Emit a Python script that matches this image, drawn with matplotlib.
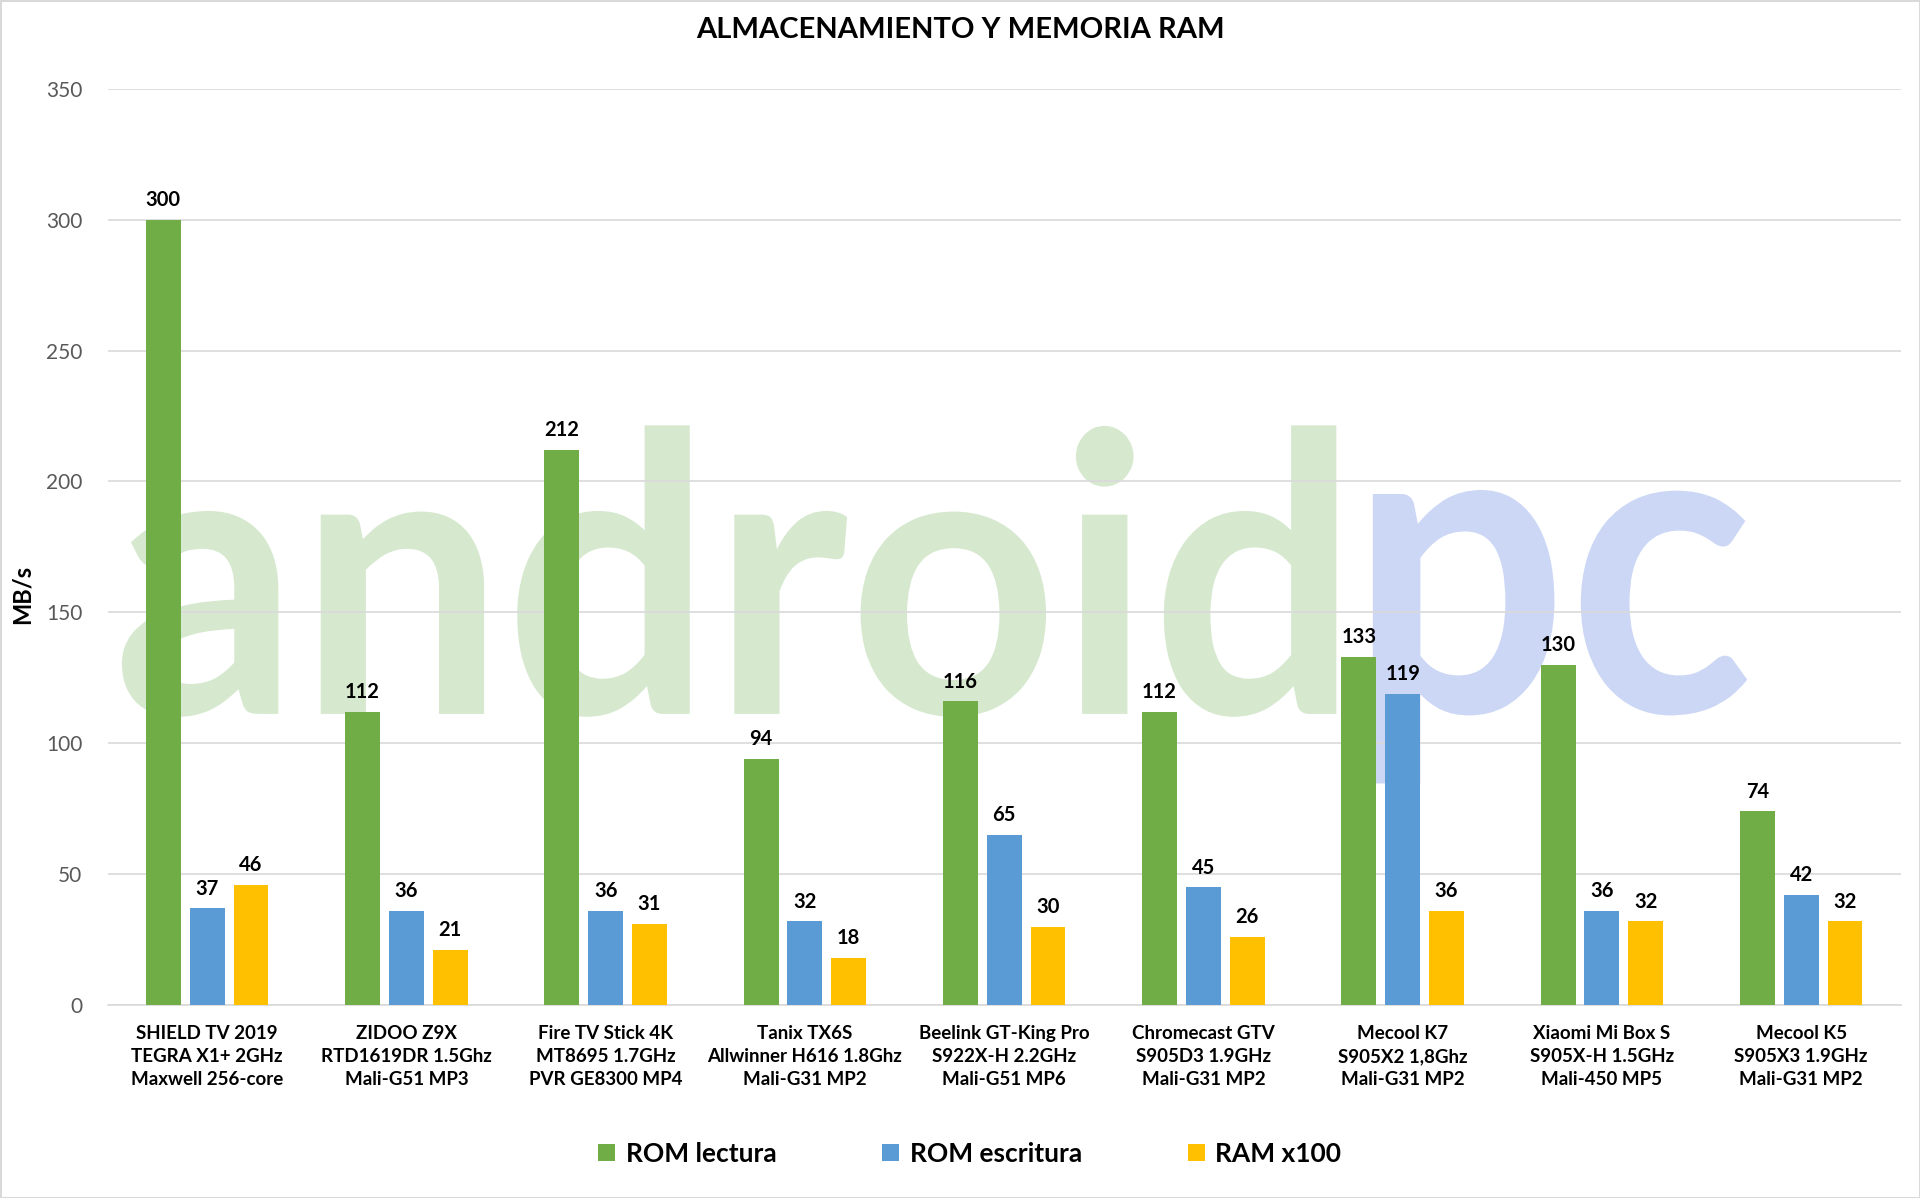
import numpy as np
import matplotlib.pyplot as plt
from matplotlib.textpath import TextPath
from matplotlib.patches import PathPatch
from matplotlib.font_manager import FontProperties
from matplotlib.transforms import Affine2D

plt.rcParams['font.family'] = ['Lato', 'DejaVu Sans']

# Datos de almacenamiento y RAM (MB/s)
devices = [
    "SHIELD TV 2019\nTEGRA X1+ 2GHz\nMaxwell 256-core",
    "ZIDOO Z9X\nRTD1619DR 1.5Ghz\nMali-G51 MP3",
    "Fire TV Stick 4K\nMT8695 1.7GHz\nPVR GE8300 MP4",
    "Tanix TX6S\nAllwinner H616 1.8Ghz\nMali-G31 MP2",
    "Beelink GT-King Pro\nS922X-H 2.2GHz\nMali-G51 MP6",
    "Chromecast GTV\nS905D3 1.9GHz\nMali-G31 MP2",
    "Mecool K7\nS905X2 1,8Ghz\nMali-G31 MP2",
    "Xiaomi Mi Box S\nS905X-H 1.5GHz\nMali-450 MP5",
    "Mecool K5\nS905X3 1.9GHz\nMali-G31 MP2",
]
rom_lectura = [300, 112, 212, 94, 116, 112, 133, 130, 74]
rom_escritura = [37, 36, 36, 32, 65, 45, 119, 36, 42]
ram_x100 = [46, 21, 31, 18, 30, 26, 36, 32, 32]
series_names = ["ROM lectura", "ROM escritura", "RAM x100"]
y_ticks = [0, 50, 100, 150, 200, 250, 300, 350]

colors = ["#70AD47", "#5B9BD5", "#FFC000"]

fig = plt.figure(figsize=(19.2, 11.98), dpi=100)
fig.patch.set_edgecolor("#d9d9d9")
fig.patch.set_linewidth(2)
ax = fig.add_axes([0.056, 0.161, 0.934, 0.765])
ax.set_facecolor('none')


# marca de agua "androidpc", ajustada a una caja en coordenadas de figura
def watermark(txt, box, color):
    tp = TextPath((0, 0), txt, size=1, prop=FontProperties(family='Lato', weight='bold'))
    ext = tp.get_extents()
    x0, x1, y0, y1 = box
    tr = (Affine2D().translate(-ext.x0, -ext.y0)
          .scale((x1 - x0) / ext.width, (y1 - y0) / ext.height)
          .translate(x0, y0) + fig.transFigure)
    ax.add_artist(PathPatch(tp, transform=tr, facecolor=color, edgecolor='none',
                            zorder=0.5, clip_on=False))


watermark("android", (0.0635, 0.696, 0.4015, 0.645), "#d6e9cf")
watermark("pc", (0.715, 0.910, 0.346, 0.591), "#ccd7f6")

x = np.arange(len(devices))
width = 0.175
step = 0.22
for i, (vals, name) in enumerate(zip([rom_lectura, rom_escritura, ram_x100], series_names)):
    bars = ax.bar(x + (i - 1) * step, vals, width, color=colors[i], label=name, zorder=3)
    for b, v in zip(bars, vals):
        ax.annotate(str(v), (b.get_x() + b.get_width() / 2, v), xytext=(0, 7),
                    textcoords='offset points', ha='center', va='bottom',
                    fontsize=14.5, fontweight='bold', color='black', zorder=4)

ax.set_xlim(-0.5, len(devices) - 0.5)
ax.set_ylim(0, 350)
ax.set_yticks(y_ticks)
ax.yaxis.grid(True, color="#d9d9d9", linewidth=1.2, zorder=1)
ax.set_axisbelow(True)
for s in ['top', 'right', 'left']:
    ax.spines[s].set_visible(False)
ax.spines['bottom'].set_color("#d9d9d9")
ax.spines['bottom'].set_linewidth(1.2)
ax.tick_params(axis='both', length=0)
ax.tick_params(axis='y', labelsize=15, labelcolor="#595959", pad=18)
ax.set_xticks(x)
ax.set_xticklabels(devices, fontsize=13.5, fontweight='bold', linespacing=1.45)
ax.tick_params(axis='x', pad=14)

fig.text(0.0115, 0.504, "MB/s", rotation=90, fontsize=17, fontweight='bold',
         ha='center', va='center')
fig.text(0.5, 0.975, "ALMACENAMIENTO Y MEMORIA RAM", fontsize=21, fontweight='bold',
         ha='center', va='center')

fig.legend(loc='center', bbox_to_anchor=(0.505, 0.037), ncol=3, frameon=False,
           handlelength=0.65, handleheight=0.65, handletextpad=0.4,
           columnspacing=4.0, prop={'weight': 'bold', 'size': 19})

fig.savefig("out.png", dpi=100)
